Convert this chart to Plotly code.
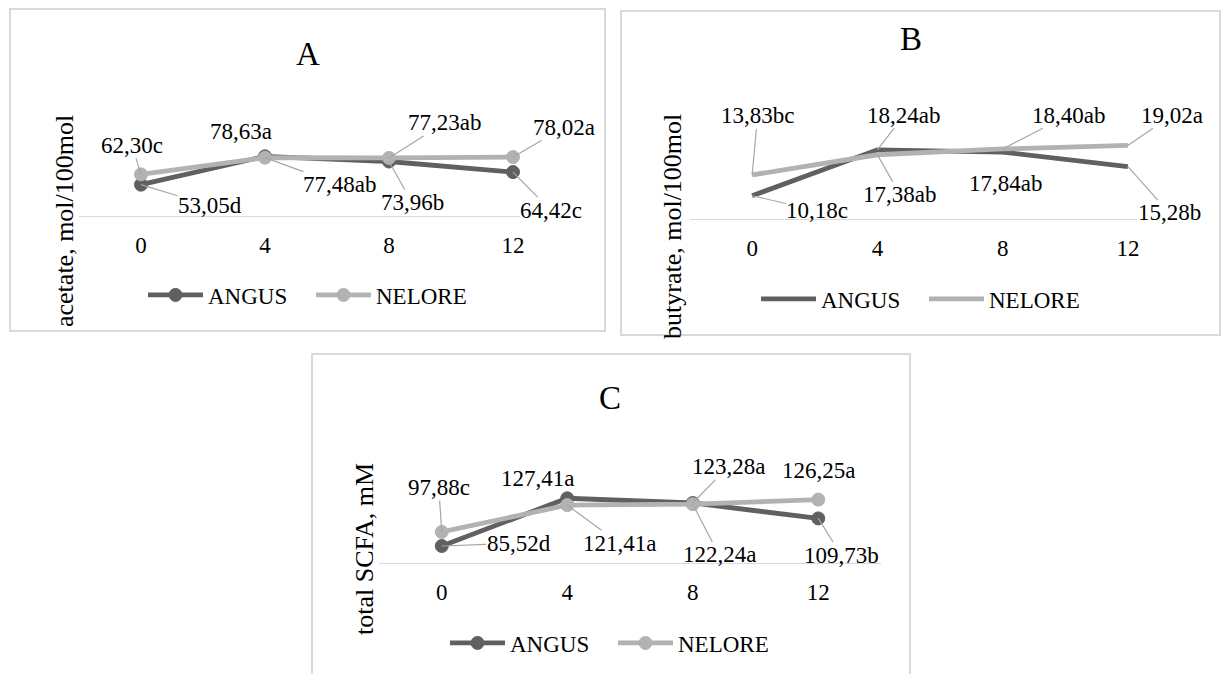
import plotly.graph_objects as go

# ---------------- data ----------------
weeks = [0, 4, 8, 12]
tick_labels = ["0", "4", "8", "12"]
series_names = ["ANGUS", "NELORE"]

acetate_angus = [53.05, 78.63, 73.96, 64.42]
acetate_nelore = [62.30, 77.48, 77.23, 78.02]
acetate_angus_txt = ["53,05d", "78,63a", "73,96b", "64,42c"]
acetate_nelore_txt = ["62,30c", "77,48ab", "77,23ab", "78,02a"]

butyrate_angus = [10.18, 18.24, 17.84, 15.28]
butyrate_nelore = [13.83, 17.38, 18.40, 19.02]
butyrate_angus_txt = ["10,18c", "18,24ab", "17,84ab", "15,28b"]
butyrate_nelore_txt = ["13,83bc", "17,38ab", "18,40ab", "19,02a"]

scfa_angus = [85.52, 127.41, 123.28, 109.73]
scfa_nelore = [97.88, 121.41, 122.24, 126.25]
scfa_angus_txt = ["85,52d", "127,41a", "123,28a", "109,73b"]
scfa_nelore_txt = ["97,88c", "121,41a", "122,24a", "126,25a"]

panel_titles = ["A", "B", "C"]
y_titles = ["acetate, mol/100mol", "butyrate, mol/100mol", "total SCFA, mM"]

# ---------------- style ----------------
W, H = 1224, 674
FONT = "Liberation Serif"
C_ANGUS = "#606060"
C_NELORE = "#b2b2b2"
C_LEADER = "#a6a6a6"
C_BORDER = "#d9d9d9"


def px(x):
    return x / W


def py(y):
    return 1 - y / H


# panel geometry (pixels): box, plot x-span, axis-line y, plot top y, y-range
panels = [
    dict(box=(10, 9, 605, 331), xs=(79, 575), yb=216, yt=100, yr=(24.7, 24.7 + 116 / 1.106),
         title_xy=(308, 54), ytitle_xy=(64, 221), legend_xy=(311, 295), markers=True),
    dict(box=(621, 11, 1220, 335), xs=(689.5, 1190.5), yb=219, yt=100, yr=(6.09, 6.09 + 119 / 5.69),
         title_xy=(911, 39), ytitle_xy=(672, 227), legend_xy=(924, 299), markers=False),
    dict(box=(312, 354, 910, 690), xs=(379, 881), yb=563.3, yt=450, yr=(70.33, 70.33 + 113.3 / 1.139),
         title_xy=(610, 398), ytitle_xy=(364, 549), legend_xy=(613, 643), markers=True),
]

# label offsets (px) from the point, and whether a leader line is shown
offsets = [
    dict(angus=[(69, 21, 1), (-24, -25, 0), (23, 41, 1), (37.5, 38, 1)],
         nelore=[(-9, -29, 1), (74, 27, 1), (55, -35, 1), (51, -29.5, 1)]),
    dict(angus=[(65, 15, 1), (26.6, -34.6, 1), (2.4, 30.9, 0), (41.4, 46.1, 1)],
         nelore=[(5.5, -59, 1), (22.6, 39.9, 1), (65.4, -33.7, 1), (44.1, -30.1, 1)]),
    dict(angus=[(77, -2.7, 1), (-30, -20, 0), (35.5, -36.3, 1), (23, 36.6, 1)],
         nelore=[(-3, -44.4, 1), (51.8, 38.2, 1), (26.3, 50.8, 1), (0, -29, 0)]),
]
white_bg = {"64,42c", "15,28b"}

data = [
    (acetate_angus, acetate_nelore, acetate_angus_txt, acetate_nelore_txt),
    (butyrate_angus, butyrate_nelore, butyrate_angus_txt, butyrate_nelore_txt),
    (scfa_angus, scfa_nelore, scfa_angus_txt, scfa_nelore_txt),
]

fig = go.Figure()
annotations = []
shapes = []
legend_keys = ["legend", "legend2", "legend3"]

for i, (p, (ang, nel, ang_t, nel_t)) in enumerate(zip(panels, data)):
    sfx = "" if i == 0 else str(i + 1)
    xa, ya = "x" + sfx, "y" + sfx
    mode = "lines+markers" if p["markers"] else "lines"
    for name, vals, col in ((series_names[0], ang, C_ANGUS), (series_names[1], nel, C_NELORE)):
        fig.add_trace(go.Scatter(
            x=weeks, y=vals, name=name, mode=mode, xaxis=xa, yaxis=ya,
            line=dict(color=col, width=4.8),
            marker=dict(size=13, color=col, line=dict(color=col, width=1)),
            legend=legend_keys[i], showlegend=True, hoverinfo="skip",
        ))
    # axes
    fig.update_layout(**{
        "xaxis" + sfx: dict(domain=[px(p["xs"][0]), px(p["xs"][1])], range=[-2, 14],
                            tickvals=weeks, ticktext=tick_labels, showline=True,
                            linecolor=C_BORDER, linewidth=1.3, showgrid=False, zeroline=False,
                            ticks="", ticklabelstandoff=8, anchor=ya,
                            tickfont=dict(family=FONT, size=23, color="black"), fixedrange=True),
        "yaxis" + sfx: dict(domain=[py(p["yb"]), py(p["yt"])], range=list(p["yr"]),
                            visible=False, anchor=xa, fixedrange=True),
        legend_keys[i]: dict(orientation="h", x=px(p["legend_xy"][0]), y=py(p["legend_xy"][1]),
                             xanchor="center", yanchor="middle", bgcolor="rgba(0,0,0,0)",
                             itemwidth=55, entrywidth=98, entrywidthmode="pixels",
                             font=dict(family=FONT, size=23, color="black")),
    })
    # border box
    x0, y0, x1, y1 = p["box"]
    shapes.append(dict(type="rect", xref="paper", yref="paper", x0=px(x0), x1=px(x1),
                       y0=py(y1), y1=py(y0), line=dict(color=C_BORDER, width=2),
                       fillcolor="rgba(0,0,0,0)", layer="below"))
    # titles
    annotations.append(dict(text=panel_titles[i], xref="paper", yref="paper",
                            x=px(p["title_xy"][0]), y=py(p["title_xy"][1]),
                            showarrow=False, xanchor="center", yanchor="middle",
                            font=dict(family=FONT, size=33, color="black")))
    annotations.append(dict(text=y_titles[i], xref="paper", yref="paper", textangle=-90,
                            x=px(p["ytitle_xy"][0]), y=py(p["ytitle_xy"][1]),
                            showarrow=False, xanchor="center", yanchor="middle",
                            font=dict(family=FONT, size=26, color="black")))
    # data labels with leader lines
    for vals, txts, offs in ((ang, ang_t, offsets[i]["angus"]), (nel, nel_t, offsets[i]["nelore"])):
        for wk, v, t, (dx, dy, lead) in zip(weeks, vals, txts, offs):
            annotations.append(dict(
                text=t, x=wk, y=v, xref=xa, yref=ya, showarrow=True, ax=dx, ay=dy,
                arrowhead=0, arrowwidth=1.2, standoff=0, startstandoff=0,
                arrowcolor=C_LEADER if lead else "rgba(0,0,0,0)",
                bgcolor="white" if t in white_bg else "rgba(0,0,0,0)", borderpad=0,
                font=dict(family=FONT, size=23, color="black")))

fig.update_layout(
    width=W, height=H, margin=dict(l=0, r=0, t=0, b=0),
    paper_bgcolor="white", plot_bgcolor="white",
    annotations=annotations, shapes=shapes,
    font=dict(family=FONT, color="black"),
)

fig.write_html("out.html")
